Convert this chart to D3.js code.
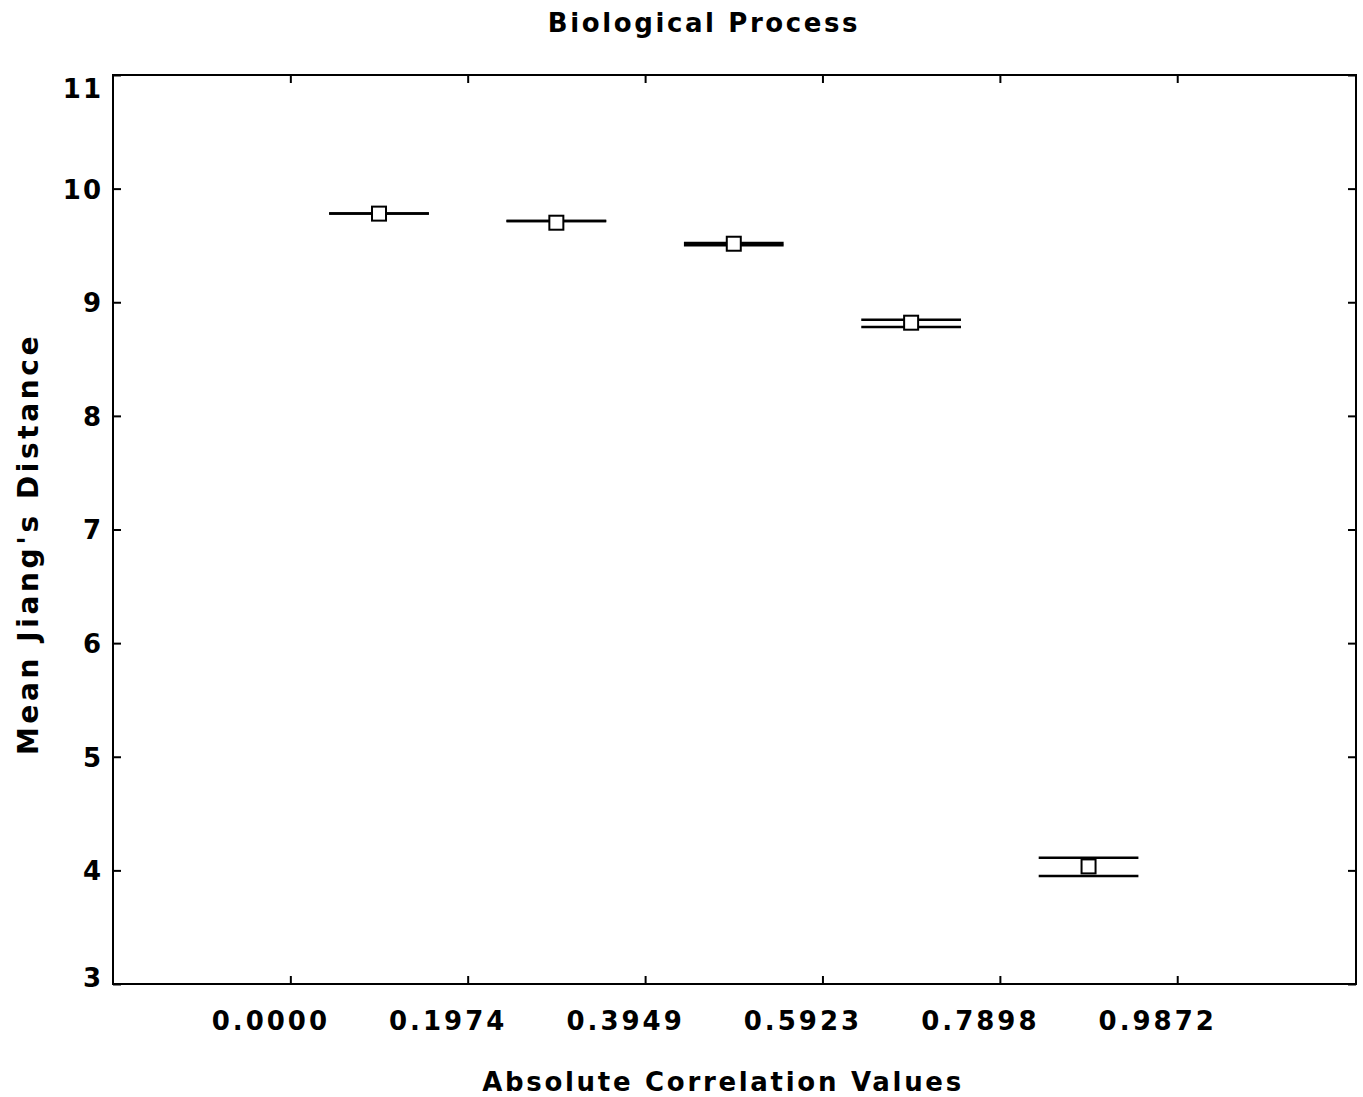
<!DOCTYPE html>
<html>
<head>
<meta charset="utf-8">
<script src="https://cdn.jsdelivr.net/npm/d3@7"></script>
<style>
  body { margin: 0; background: #fff; }
  svg text { font-family: "DejaVu Sans", Verdana, sans-serif; font-weight: bold; fill: #000; }
</style>
</head>
<body>
<svg id="chart" width="1363" height="1097"></svg>
<script>
// Data
const binCenters = [0.0987, 0.2961, 0.4936, 0.6910, 0.8885];
const meanValues = [9.78, 9.70, 9.515, 8.82, 4.035];
const upperCI = [9.78, 9.715, 9.522, 8.845, 4.112];
const lowerCI = [9.78, 9.715, 9.502, 8.783, 3.950];
const xTickValues = [0.0000, 0.1974, 0.3949, 0.5923, 0.7898, 0.9872];
const xTickLabels = ["0.0000", "0.1974", "0.3949", "0.5923", "0.7898", "0.9872"];
const yTickValues = [3, 4, 5, 6, 7, 8, 9, 10, 11];
const binHalfWidth = 0.0555;

const svg = d3.select("#chart");
const L = 113, R = 1356, T = 75, B = 984;

const x = d3.scaleLinear().domain([-0.1974, 1.1862]).range([L, R]);
const y = d3.scaleLinear().domain([3, 11]).range([B, T]);

// frame
svg.append("rect").attr("x", L).attr("y", T).attr("width", R - L).attr("height", B - T)
  .attr("fill", "none").attr("stroke", "#000").attr("stroke-width", 2);

// bottom axis
const gx = svg.append("g").attr("transform", `translate(0,${B})`)
  .call(d3.axisBottom(x).tickValues(xTickValues).tickFormat((d, i) => xTickLabels[i]).tickSizeInner(-8).tickSizeOuter(0));
gx.select(".domain").remove();
gx.selectAll(".tick line").attr("stroke", "#000").attr("stroke-width", 2);
gx.selectAll(".tick text").attr("font-size", 26).attr("letter-spacing", 3).attr("dx", -20).attr("y", 0).attr("dy", 46);

// top axis
const gxt = svg.append("g").attr("transform", `translate(0,${T})`)
  .call(d3.axisTop(x).tickValues(xTickValues).tickFormat("").tickSizeInner(-8).tickSizeOuter(0));
gxt.select(".domain").remove();
gxt.selectAll(".tick line").attr("stroke", "#000").attr("stroke-width", 2);

// left axis
const gy = svg.append("g").attr("transform", `translate(${L},0)`)
  .call(d3.axisLeft(y).tickValues(yTickValues).tickFormat(d3.format("d")).tickSizeInner(-8).tickSizeOuter(0));
gy.select(".domain").remove();
gy.selectAll(".tick line").attr("stroke", "#000").attr("stroke-width", 2);
gy.selectAll(".tick text").attr("font-size", 26).attr("letter-spacing", 2).attr("x", -10).attr("dy", "0.36em")
  .attr("transform", d => d === 11 ? "translate(0,13)" : d === 3 ? "translate(0,-7)" : null);

// right axis
const gyr = svg.append("g").attr("transform", `translate(${R},0)`)
  .call(d3.axisRight(y).tickValues(yTickValues).tickFormat("").tickSizeInner(-8).tickSizeOuter(0));
gyr.select(".domain").remove();
gyr.selectAll(".tick line").attr("stroke", "#000").attr("stroke-width", 2);

// CI lines
const g = svg.append("g");
binCenters.forEach((c, i) => {
  [upperCI[i], lowerCI[i]].forEach(v => {
    g.append("line")
      .attr("x1", x(c - binHalfWidth)).attr("x2", x(c + binHalfWidth))
      .attr("y1", y(v)).attr("y2", y(v))
      .attr("stroke", "#000").attr("stroke-width", 2.5);
  });
});
// mean squares
binCenters.forEach((c, i) => {
  g.append("rect")
    .attr("x", x(c) - 7).attr("y", y(meanValues[i]) - 7)
    .attr("width", 14).attr("height", 14)
    .attr("fill", "#fff").attr("stroke", "#000").attr("stroke-width", 2);
});

// titles
svg.append("text").attr("x", 704).attr("y", 32).attr("text-anchor", "middle")
  .attr("font-size", 26).attr("letter-spacing", 2.6).text("Biological Process");
svg.append("text").attr("x", 723).attr("y", 1091).attr("text-anchor", "middle")
  .attr("font-size", 26).attr("letter-spacing", 2.7).text("Absolute Correlation Values");
svg.append("text").attr("transform", "translate(38,544) rotate(-90)").attr("text-anchor", "middle")
  .attr("font-size", 28).attr("letter-spacing", 3.6).text("Mean Jiang's Distance");
</script>
</body>
</html>
